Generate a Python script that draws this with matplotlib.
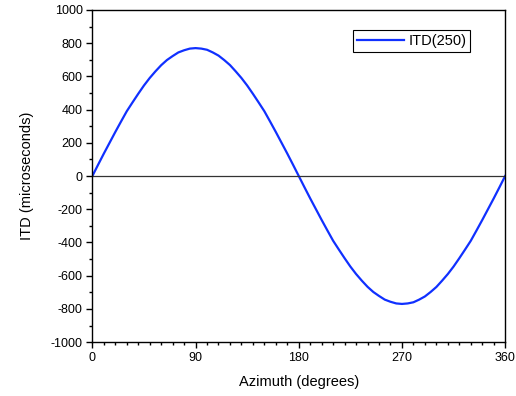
import numpy as np
import matplotlib.pyplot as plt
from matplotlib.ticker import MultipleLocator

plt.rcParams['font.family'] = ['Liberation Sans', 'DejaVu Sans']
plt.rcParams['axes.unicode_minus'] = False

# azimuth in degrees and ITD values
azimuth = [0, 5, 10, 15, 20, 25, 30, 35, 40, 45, 50, 55, 60, 65, 70, 75, 80, 85, 90,
           95, 100, 105, 110, 115, 120, 125, 130, 135, 140, 145, 150, 155, 160, 165, 170, 175, 180,
           185, 190, 195, 200, 205, 210, 215, 220, 225, 230, 235, 240, 245, 250, 255, 260, 265, 270,
           275, 280, 285, 290, 295, 300, 305, 310, 315, 320, 325, 330, 335, 340, 345, 350, 355, 360]
itd = [0, 68, 135, 200, 265, 328, 390, 443, 495, 545, 590, 630, 667, 698, 722, 744, 757, 767, 770,
       767, 760, 744, 725, 698, 668, 630, 590, 545, 495, 443, 390, 328, 265, 200, 135, 68, 0,
       -68, -135, -200, -265, -328, -390, -443, -495, -545, -590, -630, -667, -698, -722, -744, -757, -767, -770,
       -767, -760, -744, -725, -698, -668, -630, -590, -545, -495, -443, -390, -328, -265, -200, -135, -68, 0]

fig = plt.figure(figsize=(5.16, 3.96), dpi=100)
ax = fig.add_axes([0.179, 0.136, 0.800, 0.839])

ax.plot(azimuth, itd, color='#1030ff', linewidth=1.6, label='ITD(250)')
ax.axhline(0, color='#333333', linewidth=0.9)

ax.set_xlim(0, 360)
ax.set_ylim(-1000, 1000)
ax.set_xticks([0, 90, 180, 270, 360])
ax.xaxis.set_minor_locator(MultipleLocator(10))
ax.set_yticks(np.arange(-1000, 1001, 200))
ax.yaxis.set_minor_locator(MultipleLocator(100))
ax.tick_params(which='both', direction='out', top=False, right=False, labelsize=9)
ax.tick_params(which='major', length=4.5, width=1, pad=2.5)
ax.tick_params(which='minor', length=2.5, width=1)
for s in ax.spines.values():
    s.set_linewidth(1.0)

ax.set_xlabel('Azimuth (degrees)', fontsize=10.5, labelpad=8)
ax.set_ylabel('ITD (microseconds)', fontsize=10.5, labelpad=12)

leg = ax.legend(loc='upper right', bbox_to_anchor=(0.932, 0.96), fancybox=False, framealpha=1,
                edgecolor='black', fontsize=10.5, handlelength=3.2, borderpad=0.25, handletextpad=0.3)
leg.get_frame().set_linewidth(0.8)

fig.savefig('out.png', dpi=100)
